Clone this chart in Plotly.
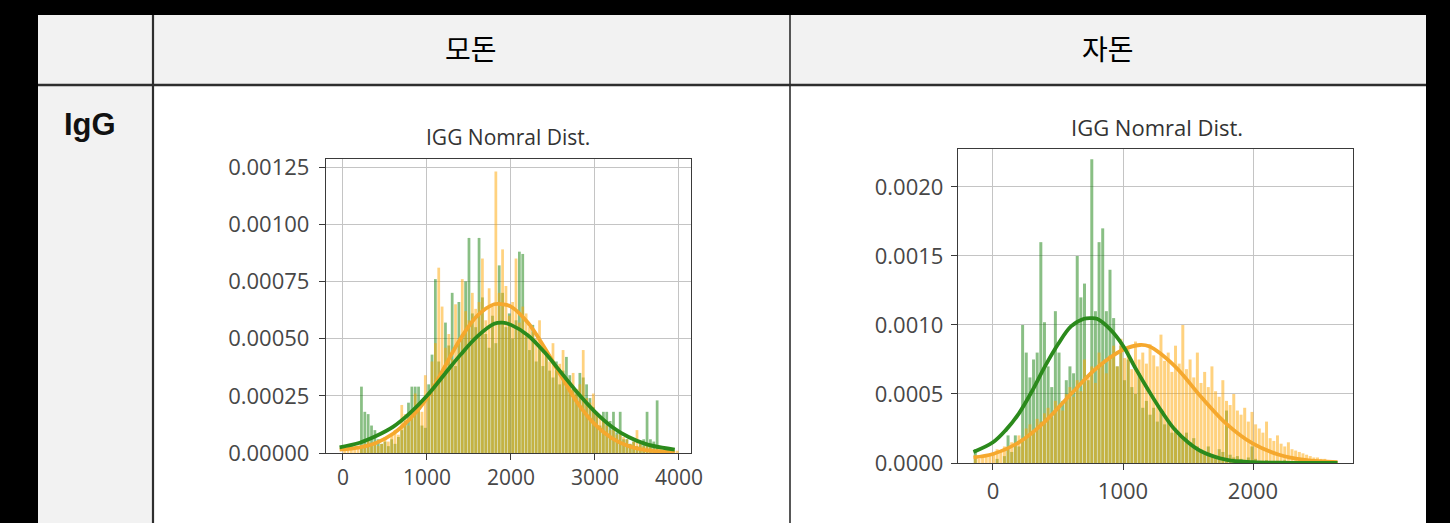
import numpy as np
import plotly.graph_objects as go

W, H = 1450, 523

# ---- 모돈 panel: density histograms (values in units of 1e-5), bins of width 40 from 0 ----
sow_bin_start = 0
sow_bin_width = 40
sow_green = [0, 0, 0, 0, 0, 29, 18, 17, 12, 10,
             6, 4, 5, 3, 6, 4, 7, 10, 14, 22,
             29, 29, 29, 12, 11, 30, 43, 76, 40, 35,
             57, 47, 70, 38, 66, 52, 75, 94, 61, 55,
             94, 68, 52, 46, 60, 48, 82, 70, 55, 61,
             50, 58, 88, 87, 51, 45, 56, 40, 46, 38,
             44, 36, 33, 40, 30, 36, 42, 34, 28, 26,
             35, 33, 30, 24, 20, 17, 12, 18, 18, 14,
             18, 9, 18, 6, 6, 4, 5, 3, 4, 6,
             18, 6, 5, 23, 0, 0, 0, 0, 0, 0]
sow_orange = [3, 2, 3, 2, 3, 2, 4, 6, 3, 5,
              3, 4, 7, 5, 8, 10, 8, 21, 17, 12,
              19, 26, 22, 18, 34, 27, 40, 48, 81, 64,
              46, 52, 41, 65, 48, 76, 62, 58, 70, 63,
              66, 85, 58, 72, 64, 123, 70, 89, 73, 60,
              66, 85, 57, 64, 61, 55, 53, 50, 58, 47,
              44, 40, 48, 36, 39, 45, 33, 31, 35, 28,
              30, 45, 24, 22, 26, 18, 16, 14, 12, 10,
              11, 8, 9, 7, 6, 4, 5, 10, 4, 3,
              4, 3, 2, 3, 2, 2, 1, 2, 1, 1]
sow_curve_x = [-40, 200, 400, 600, 800, 1000, 1200, 1400, 1600, 1800, 1900,
               2000, 2200, 2400, 2600, 2800, 3000, 3200, 3400, 3600, 3800, 3950]
sow_green_curve = [2.5, 4.5, 7.5, 11.5, 17.5, 25, 34, 43, 51, 56.5, 57,
                   56, 51.5, 44, 35, 26, 18, 11.5, 7, 4, 2.3, 1.5]
sow_orange_curve = [1.5, 2.5, 4.5, 8.5, 15, 24, 37, 50, 60, 65, 65,
                    64, 57, 46, 33.5, 21.5, 12.5, 6.5, 3, 1.3, 0.6, 0.3]
sow_x_ticks = [0, 1000, 2000, 3000, 4000]
sow_y_ticks = [0, 0.00025, 0.0005, 0.00075, 0.001, 0.00125]

# ---- 자돈 panel: bins of width 28 from -150 ----
piglet_bin_start = -150
piglet_bin_width = 28
piglet_green = [10, 0, 0, 0, 0, 0, 3, 0, 5, 20,
                8, 20, 12, 100, 80, 62, 75, 80, 160, 102,
                70, 55, 110, 80, 45, 60, 70, 65, 150, 120,
                130, 60, 220, 110, 160, 170, 110, 140, 105, 70,
                85, 60, 75, 55, 50, 65, 40, 45, 35, 40,
                30, 38, 28, 30, 22, 25, 20, 18, 22, 15,
                18, 12, 10, 8, 12, 6, 5, 10, 8, 38,
                6, 4, 5, 3, 2, 4, 12, 3, 0, 0,
                2, 0, 0, 0, 0, 2, 0, 0, 0, 0,
                0, 0, 0, 0, 0, 0, 0, 0, 0, 0]
piglet_orange = [5, 3, 4, 6, 5, 7, 10, 8, 12, 10,
                 15, 14, 20, 18, 25, 28, 22, 32, 30, 36,
                 40, 33, 45, 42, 38, 50, 55, 48, 60, 52,
                 75, 62, 70, 58, 80, 72, 65, 78, 85, 70,
                 90, 76, 82, 68, 88, 75, 80, 72, 86, 78,
                 70, 93, 74, 80, 66, 85, 72, 100, 68, 75,
                 62, 80, 58, 66, 55, 70, 52, 48, 60, 45,
                 42, 50, 38, 35, 40, 30, 37, 28, 25, 22,
                 30, 18, 16, 20, 14, 12, 15, 10, 9, 8,
                 7, 6, 5, 4, 4, 3, 3, 2, 2, 1]
piglet_green_curve_x = [-150, 0, 100, 200, 300, 400, 500, 600, 700, 750, 800, 900,
                        1000, 1100, 1200, 1300, 1400, 1500, 1600, 1800, 2000, 2200, 2400, 2650]
piglet_green_curve = [8, 15, 24, 36, 52, 70, 86, 99, 104.5, 105, 104.5, 97,
                      85, 68, 52, 37, 24, 15, 8.5, 2.2, 0.6, 0.2, 0.05, 0]
piglet_orange_curve_x = [-150, 0, 200, 400, 600, 800, 1000, 1130, 1200, 1400,
                         1600, 1800, 2000, 2200, 2400, 2650]
piglet_orange_curve = [4, 6.5, 15, 30, 50, 69, 82, 85.5, 84.5, 70,
                       48, 28, 14, 6, 2.2, 0.6]
piglet_x_ticks = [0, 1000, 2000]
piglet_y_ticks = [0, 0.0005, 0.001, 0.0015, 0.002]

UNIT = 1e-5
GREEN_BAR = "rgba(20,128,10,0.5)"
ORANGE_BAR = "rgba(255,165,0,0.5)"
GREEN_LINE = "#2b8a1c"
ORANGE_LINE = "#f5a82e"


def px_x(x):
    return x / W


def px_y(y):
    return 1 - y / H


def centers(start, width, n):
    return start + width * (np.arange(n) + 0.5)


fig = go.Figure()


def add_panel(xa, ya, start, width, green, orange, gx, gy, ox, oy):
    n = len(green)
    c = centers(start, width, n)
    fig.add_trace(go.Bar(x=c, y=np.array(green) * UNIT, width=width * 0.82,
                         marker=dict(color=GREEN_BAR, line=dict(width=0)),
                         xaxis=xa, yaxis=ya, showlegend=False))
    fig.add_trace(go.Bar(x=c, y=np.array(orange) * UNIT, width=width * 0.82,
                         marker=dict(color=ORANGE_BAR, line=dict(width=0)),
                         xaxis=xa, yaxis=ya, showlegend=False))
    fig.add_trace(go.Scatter(x=ox, y=np.array(oy) * UNIT, mode="lines",
                             line=dict(color=ORANGE_LINE, width=3.8, shape="spline"),
                             xaxis=xa, yaxis=ya, showlegend=False))
    fig.add_trace(go.Scatter(x=gx, y=np.array(gy) * UNIT, mode="lines",
                             line=dict(color=GREEN_LINE, width=3.8, shape="spline"),
                             xaxis=xa, yaxis=ya, showlegend=False))


add_panel("x", "y", sow_bin_start, sow_bin_width, sow_green, sow_orange,
          sow_curve_x, sow_green_curve, sow_curve_x, sow_orange_curve)
add_panel("x2", "y2", piglet_bin_start, piglet_bin_width, piglet_green, piglet_orange,
          piglet_green_curve_x, piglet_green_curve, piglet_orange_curve_x, piglet_orange_curve)


def axis_style(size, standoff=0):
    return dict(showgrid=True, gridcolor="#c4c4c4", gridwidth=1,
                showline=True, linecolor="#3a3a3a", linewidth=1.3, mirror=True,
                ticks="outside", ticklen=6, tickcolor="#3a3a3a", tickwidth=1.2,
                zeroline=False, automargin=False, ticklabelstandoff=standoff,
                tickfont=dict(family="Open Sans", size=size, color="#474747"))


# panel boxes (pixel positions on the page)
L = dict(x0=326, x1=691, y0=159, y1=453)
R = dict(x0=958, x1=1353, y0=149, y1=463)

fig.update_layout(
    width=W, height=H,
    margin=dict(l=0, r=0, t=0, b=0, pad=0, autoexpand=False),
    paper_bgcolor="black",
    plot_bgcolor="white",
    barmode="overlay",
    xaxis=dict(domain=[px_x(L["x0"]), px_x(L["x1"])], anchor="y",
               range=[-202, 4143], tickvals=sow_x_ticks,
               ticktext=[str(v) for v in sow_x_ticks], **axis_style(21)),
    yaxis=dict(domain=[px_y(L["y1"]), px_y(L["y0"])], anchor="x",
               range=[0, 0.001285], tickvals=sow_y_ticks, tickformat=".5f",
               **axis_style(22, 5)),
    xaxis2=dict(domain=[px_x(R["x0"]), px_x(R["x1"])], anchor="y2",
                range=[-269, 2769], tickvals=piglet_x_ticks,
                ticktext=[str(v) for v in piglet_x_ticks], **axis_style(22, 2)),
    yaxis2=dict(domain=[px_y(R["y1"]), px_y(R["y0"])], anchor="x2",
                range=[0, 0.002275], tickvals=piglet_y_ticks, tickformat=".4f",
                **axis_style(22, 3)),
)

# table frame drawn behind the charts
shapes = [
    dict(type="rect", x0=38, x1=1426, y0=15, y1=85, fillcolor="#f2f2f2"),
    dict(type="rect", x0=38, x1=153, y0=85, y1=523, fillcolor="#f2f2f2"),
    dict(type="rect", x0=153, x1=1426, y0=85, y1=523, fillcolor="white"),
    dict(type="line", x0=38, x1=1426, y0=85, y1=85, line=dict(color="#2e2e2e", width=2.5)),
    dict(type="line", x0=153, x1=153, y0=15, y1=523, line=dict(color="#2e2e2e", width=2.2)),
    dict(type="line", x0=790, x1=790, y0=15, y1=523, line=dict(color="#2e2e2e", width=1.6)),
]
for s in shapes:
    d = dict(type=s["type"], xref="paper", yref="paper", layer="below",
             x0=px_x(s["x0"]), x1=px_x(s["x1"]), y0=px_y(s["y0"]), y1=px_y(s["y1"]))
    if "fillcolor" in s:
        d["fillcolor"] = s["fillcolor"]
        d["line"] = dict(width=0)
    else:
        d["line"] = s["line"]
    fig.add_shape(**d)

texts = [
    dict(text="모돈", x=471, y=48, size=28, family="Noto Sans CJK KR", color="#000", xanchor="center", weight="normal"),
    dict(text="자돈", x=1108, y=48, size=28, family="Noto Sans CJK KR", color="#000", xanchor="center", weight="normal"),
    dict(text="IgG", x=62, y=124, size=31, family="Liberation Sans", color="#111", xanchor="left", weight="bold"),
    dict(text="IGG Nomral Dist.", x=508, y=137, size=21, family="Open Sans", color="#333", xanchor="center", weight="normal"),
    dict(text="IGG Nomral Dist.", x=1157, y=127, size=22, family="Open Sans", color="#333", xanchor="center", weight="normal"),
]
for t in texts:
    fig.add_annotation(text=t["text"], xref="paper", yref="paper",
                       x=px_x(t["x"]), y=px_y(t["y"]), xanchor=t["xanchor"], yanchor="middle",
                       showarrow=False,
                       font=dict(family=t["family"], size=t["size"], color=t["color"],
                                 weight=t["weight"]))

fig.write_html("out.html")
